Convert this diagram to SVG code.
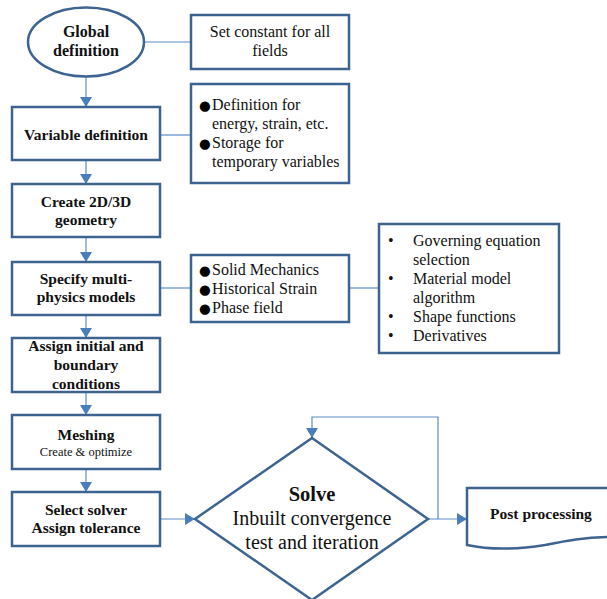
<svg xmlns="http://www.w3.org/2000/svg" width="607" height="599" viewBox="0 0 607 599">
<style>
.b{fill:#fff;stroke:#3d6391;stroke-width:2.5}
.c{fill:none;stroke:#5a8bc8;stroke-width:1.2}
.t{font-family:"Times New Roman","Liberation Serif",Tinos,serif;font-size:16px;fill:#111}
.tb{font-family:"Times New Roman","Liberation Serif",Tinos,serif;font-size:15.5px;font-weight:700;fill:#111;text-anchor:middle}
.m{text-anchor:middle}
.s16{font-size:16px}
.s20{font-size:20px}
.s205{font-size:20.5px}
.s125{font-size:12.5px}
.bl{font-family:"DejaVu Sans",sans-serif;font-size:13.5px;fill:#000}
</style>
<defs>
<marker id="ah" viewBox="0 0 10 12" markerWidth="10" markerHeight="12" refX="10" refY="6" orient="auto" markerUnits="userSpaceOnUse">
<path d="M0,0 L10,6 L0,12 z" fill="#4a7ebb"/>
</marker>
</defs>
<rect width="607" height="599" fill="#fff"/>
<g id="connectors">
<line class="c" x1="86" y1="77" x2="86" y2="107" marker-end="url(#ah)"/>
<line class="c" x1="86" y1="160" x2="86" y2="184" marker-end="url(#ah)"/>
<line class="c" x1="86" y1="237" x2="86" y2="262" marker-end="url(#ah)"/>
<line class="c" x1="86" y1="315" x2="86" y2="338" marker-end="url(#ah)"/>
<line class="c" x1="86" y1="392" x2="86" y2="415" marker-end="url(#ah)"/>
<line class="c" x1="86" y1="469" x2="86" y2="492" marker-end="url(#ah)"/>
<line class="c" x1="160" y1="519" x2="195" y2="519" marker-end="url(#ah)"/>
<line class="c" x1="428" y1="519" x2="467" y2="519" marker-end="url(#ah)"/>
<polyline class="c" points="438,519 438,417 312,417 312,438" marker-end="url(#ah)"/>
<line class="c" x1="144" y1="42" x2="191" y2="42"/>
<line class="c" x1="160" y1="135" x2="191" y2="135"/>
<line class="c" x1="160" y1="288" x2="191" y2="288"/>
<line class="c" x1="349" y1="288" x2="379" y2="288"/>
</g>
<g id="global">
<ellipse class="b" cx="86" cy="42" rx="58" ry="34.5"/>
<text class="tb s16" x="86" y="37">Global</text>
<text class="tb s16" x="86" y="56">definition</text>
</g>
<g id="setconst">
<rect class="b" x="191" y="15" width="158" height="54"/>
<text class="t m" x="270" y="37">Set constant for all</text>
<text class="t m" x="270" y="56">fields</text>
</g>
<g id="vardef">
<rect class="b" x="12" y="107" width="148" height="53"/>
<text class="tb" x="86" y="140">Variable definition</text>
</g>
<g id="vardesc">
<rect class="b" x="191" y="84" width="158" height="99"/>
<text class="bl" x="199" y="110">●</text><text class="t" x="212" y="110">Definition for</text>
<text class="t" x="212" y="129">energy, strain, etc.</text>
<text class="bl" x="199" y="148">●</text><text class="t" x="212" y="148">Storage for</text>
<text class="t" x="212" y="167">temporary variables</text>
</g>
<g id="geometry">
<rect class="b" x="12" y="184" width="148" height="53"/>
<text class="tb" x="86" y="207">Create 2D/3D</text>
<text class="tb" x="86" y="225">geometry</text>
</g>
<g id="physics">
<rect class="b" x="12" y="262" width="148" height="53"/>
<text class="tb" x="86" y="284">Specify multi-</text>
<text class="tb" x="86" y="302">physics models</text>
</g>
<g id="physlist">
<rect class="b" x="191" y="255" width="158" height="67"/>
<text class="bl" x="199" y="275">●</text><text class="t" x="212" y="275">Solid Mechanics</text>
<text class="bl" x="199" y="294">●</text><text class="t" x="212" y="294">Historical Strain</text>
<text class="bl" x="199" y="313">●</text><text class="t" x="212" y="313">Phase field</text>
</g>
<g id="details">
<rect class="b" x="379" y="224" width="180" height="129"/>
<text class="t" x="388" y="246">•</text><text class="t" x="413" y="246">Governing equation</text>
<text class="t" x="413" y="265">selection</text>
<text class="t" x="388" y="284">•</text><text class="t" x="413" y="284">Material model</text>
<text class="t" x="413" y="303">algorithm</text>
<text class="t" x="388" y="322">•</text><text class="t" x="413" y="322">Shape functions</text>
<text class="t" x="388" y="341">•</text><text class="t" x="413" y="341">Derivatives</text>
</g>
<g id="assign">
<rect class="b" x="12" y="338" width="148" height="54"/>
<text class="tb" x="86" y="351">Assign initial and</text>
<text class="tb" x="86" y="370">boundary</text>
<text class="tb" x="86" y="389">conditions</text>
</g>
<g id="meshing">
<rect class="b" x="12" y="415" width="148" height="54"/>
<text class="tb" x="86" y="440">Meshing</text>
<text class="t m s125" x="86" y="456">Create &amp; optimize</text>
</g>
<g id="solver">
<rect class="b" x="12" y="492" width="148" height="54"/>
<text class="tb" x="86" y="515">Select solver</text>
<text class="tb" x="86" y="533">Assign tolerance</text>
</g>
<g id="solve">
<polygon class="b" points="312,438 428,519 312,600 195,519"/>
<text class="tb s205" x="312" y="501">Solve</text>
<text class="t m s20" x="312" y="525">Inbuilt convergence</text>
<text class="t m s20" x="312" y="549">test and iteration</text>
</g>
<g id="post">
<path class="b" d="M467,488 H612 V537 C585,537 565,541 545,545 C520,549 495,551 467,545 Z"/>
<text class="tb" x="541" y="519">Post processing</text>
</g>
</svg>
